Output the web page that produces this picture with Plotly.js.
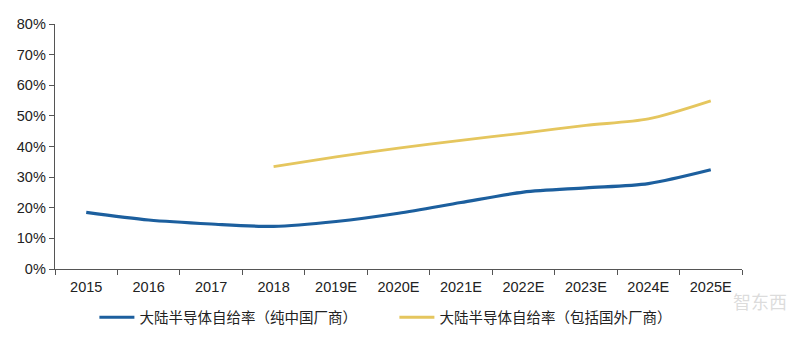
<!DOCTYPE html>
<html>
<head>
<meta charset="utf-8">
<script src="https://cdn.plot.ly/plotly-3.0.1.min.js"></script>
<style>html,body{margin:0;padding:0;background:#fff;}#chart{width:800px;height:339px;}</style>
</head>
<body>
<div id="chart"></div>
<script>
const categories = ["2015","2016","2017","2018","2019E","2020E","2021E","2022E","2023E","2024E","2025E"];
const domesticOnly = [0.185,0.160,0.147,0.139,0.155,0.182,0.217,0.251,0.265,0.279,0.324];
const withForeign = [null,null,null,0.334,0.366,0.395,0.420,0.444,0.469,0.490,0.549];
const seriesNames = ["大陆半导体自给率（纯中国厂商）","大陆半导体自给率（包括国外厂商）"];
const yTicks = [0,0.1,0.2,0.3,0.4,0.5,0.6,0.7,0.8];

const traces = [
  {x: categories, y: domesticOnly, name: seriesNames[0], type: "scatter", mode: "lines",
   line: {color: "#1c5f9e", width: 3.2, shape: "spline", smoothing: 0.8}},
  {x: categories, y: withForeign, name: seriesNames[1], type: "scatter", mode: "lines",
   line: {color: "#e5c65e", width: 2.8, shape: "spline", smoothing: 0.8}}
];

const layout = {
  width: 800, height: 339,
  margin: {l: 55, r: 58, t: 24, b: 70},
  paper_bgcolor: "#fff", plot_bgcolor: "#fff",
  font: {family: "Liberation Sans, Arial, Noto Sans CJK SC, sans-serif", size: 14.5, color: "#222"},
  showlegend: true,
  legend: {orientation: "h", xref: "container", yref: "container", x: 0.118, xanchor: "left",
    y: 0.064, yanchor: "middle",
    font: {family: "Noto Sans CJK SC, sans-serif", size: 14.5, color: "#222"},
    entrywidth: 250, entrywidthmode: "pixels", itemwidth: 35, tracegroupgap: 0},
  xaxis: {type: "category", range: [-0.5, 10.5], showline: true, linecolor: "#555", linewidth: 1.3,
    ticks: "outside", tickson: "boundaries", ticklen: 5, tickcolor: "#555",
    ticklabelstandoff: 4,
    showgrid: false, zeroline: false, fixedrange: true,
    tickfont: {size: 14.5, color: "#222"}},
  yaxis: {range: [0, 0.8], tickvals: yTicks, tickformat: ".0%", showline: true,
    linecolor: "#555", linewidth: 1.3, ticks: "outside", ticklen: 5, tickcolor: "#555",
    showgrid: false, zeroline: false, fixedrange: true,
    tickfont: {size: 14.5, color: "#222"}},
  annotations: [{text: "智东西", xref: "paper", yref: "paper", x: 1.026, y: -0.13,
    xanchor: "center", yanchor: "middle",
    showarrow: false, font: {size: 18, color: "rgba(190,190,190,0.55)", family: "Noto Sans CJK SC"}}]
};

Plotly.newPlot("chart", traces, layout, {displayModeBar: false, staticPlot: true});
</script>
</body>
</html>
